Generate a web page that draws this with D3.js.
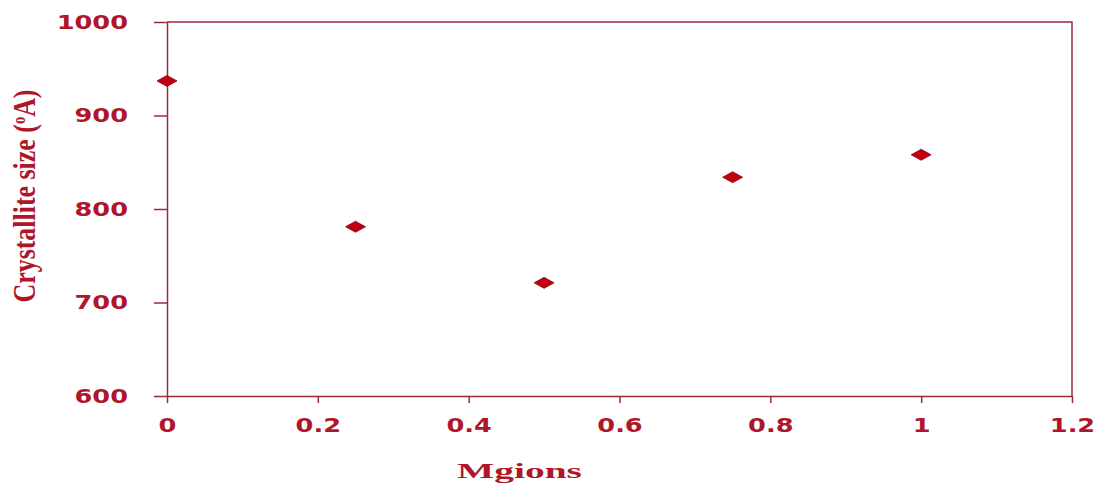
<!DOCTYPE html>
<html lang="en">
<head>
<meta charset="UTF-8">
<title>Crystallite size vs Mg ions</title>
<script src="https://cdn.jsdelivr.net/npm/d3@7"></script>
<style>
  body { margin: 0; background: #fff; }
  svg { display: block; }
</style>
</head>
<body>
<div id="chart"></div>
<script>
const mgIons = [0, 0.25, 0.5, 0.75, 1];
const crystalliteSize = [937, 781, 721, 834, 858];
const xTicks = [0, 0.2, 0.4, 0.6, 0.8, 1, 1.2];
const yTicks = [600, 700, 800, 900, 1000];

const w = 1098, h = 486;
const margin = {top: 22, right: 26, bottom: 90, left: 167};
const axisColor = "#9c2a3c";
const textColor = "#b0162a";

const svg = d3.select("#chart").append("svg")
  .attr("width", w)
  .attr("height", h);

const x = d3.scaleLinear().domain([0, 1.2]).range([margin.left, w - margin.right]);
const y = d3.scaleLinear().domain([600, 1000]).range([h - margin.bottom, margin.top]);

// frame (top and right)
svg.append("path")
  .attr("d", `M${x(0)},${y(1000)}H${x(1.2)}V${y(600)}`)
  .attr("fill", "none")
  .attr("stroke", axisColor)
  .attr("stroke-width", 1.5);

const xAxis = svg.append("g")
  .attr("transform", `translate(0,${y(600)})`)
  .call(d3.axisBottom(x).tickValues(xTicks).tickSize(7).tickSizeOuter(0)
    .tickFormat(d => String(+d.toFixed(1))));

const yAxis = svg.append("g")
  .attr("transform", `translate(${x(0)},0)`)
  .call(d3.axisLeft(y).tickValues(yTicks).tickSize(13).tickSizeOuter(0)
    .tickFormat(d3.format("d")));

const sx = 1.35;
[xAxis, yAxis].forEach(g => {
  g.select(".domain").attr("stroke", axisColor).attr("stroke-width", 1.5);
  g.selectAll(".tick line").attr("stroke", axisColor).attr("stroke-width", 1.5);
  g.selectAll(".tick text")
    .attr("fill", textColor)
    .attr("font-family", "DejaVu Sans")
    .attr("font-weight", "bold")
    .attr("font-size", 19)
    .attr("transform", `scale(${sx},1)`);
});
xAxis.selectAll(".tick text").attr("y", 23);
yAxis.selectAll(".tick text").attr("x", -39 / sx);

// markers
const diamond = "M-10,0L0,-5.5L10,0L0,5.5Z";
svg.append("g")
  .selectAll("path")
  .data(mgIons)
  .join("path")
  .attr("d", diamond)
  .attr("transform", (d, i) => `translate(${x(d)},${y(crystalliteSize[i])})`)
  .attr("fill", "#c00010")
  .attr("stroke", "#8a0a14")
  .attr("stroke-width", 0.8);

// axis titles, squeezed to the lengths in the picture
function fitText(t, len) {
  const natural = t.node().getComputedTextLength();
  return len / natural;
}

const xTitle = svg.append("text")
  .text("Mgions")
  .attr("font-family", "Liberation Serif")
  .attr("font-weight", "bold")
  .attr("font-size", 22)
  .attr("fill", textColor)
  .attr("text-anchor", "middle");
const kx = fitText(xTitle, 125);
xTitle.attr("transform", `translate(519.5,478) scale(${kx},1)`);

const yTitle = svg.append("text")
  .attr("font-family", "Liberation Serif")
  .attr("font-weight", "bold")
  .attr("font-size", 32)
  .attr("fill", textColor)
  .attr("text-anchor", "middle");
yTitle.append("tspan").text("Crystallite size (");
yTitle.append("tspan").text("o").attr("font-size", 18).attr("baseline-shift", "super");
yTitle.append("tspan").text("A)");
const ky = fitText(yTitle, 213);
yTitle.attr("transform", `translate(35,196) rotate(-90) scale(${ky},1)`);
</script>
</body>
</html>
